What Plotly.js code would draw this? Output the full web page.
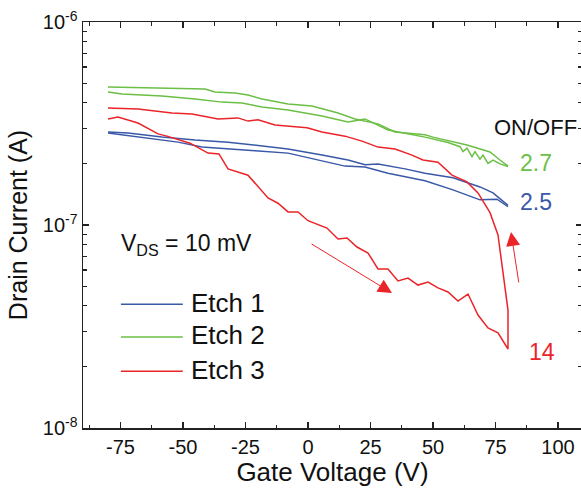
<!DOCTYPE html>
<html>
<head>
<meta charset="utf-8">
<script src="https://cdn.plot.ly/plotly-3.0.1.min.js"></script>
<style>
html,body{margin:0;padding:0;overflow:hidden;background:#fff;}
#chart{width:582px;height:488px;}
</style>
</head>
<body>
<div id="chart"></div>
<script>
// Etch 1 (blue), two sweeps
const vEtch1a = [-80,-72,-58.4,-45.2,-32,-21.2,-8,5.6,16,22.8,28,38.8,46.8,58,68.8,74,80];
const iEtch1a = [2.87e-7,2.84e-7,2.71e-7,2.62e-7,2.56e-7,2.48e-7,2.37e-7,2.21e-7,2.09e-7,1.98e-7,2.00e-7,1.89e-7,1.80e-7,1.71e-7,1.54e-7,1.44e-7,1.25e-7];
const vEtch1b = [-80,-70.4,-52,-42.4,-28,-21.2,-8,2.8,14.8,22.8,32,46.8,58,68.8,75.6,80];
const iEtch1b = [2.84e-7,2.74e-7,2.56e-7,2.42e-7,2.34e-7,2.32e-7,2.26e-7,2.11e-7,1.95e-7,1.93e-7,1.80e-7,1.65e-7,1.49e-7,1.33e-7,1.34e-7,1.23e-7];
// Etch 2 (green), two sweeps
const vEtch2a = [-80,-63.2,-41.2,-37.2,-29.2,-24,-18.4,-8,1.6,12,18.8,28,34.8,46.8,50,63.6,72.8,76.8,80];
const iEtch2a = [4.78e-7,4.73e-7,4.68e-7,4.52e-7,4.47e-7,4.37e-7,4.18e-7,3.94e-7,3.86e-7,3.56e-7,3.33e-7,3.15e-7,2.87e-7,2.78e-7,2.71e-7,2.48e-7,2.29e-7,2.09e-7,1.95e-7];
const vEtch2b = [-80,-74.4,-58.4,-45.2,-34.4,-26.4,-18.4,-8,5.6,16,22.8,32,46.8,52,56,60.8,62,63.6,65.6,66.8,68.8,70,72,74,76.8,80];
const iEtch2b = [4.52e-7,4.42e-7,4.32e-7,4.18e-7,4.03e-7,3.99e-7,3.81e-7,3.69e-7,3.44e-7,3.22e-7,3.33e-7,2.94e-7,2.71e-7,2.62e-7,2.55e-7,2.43e-7,2.30e-7,2.39e-7,2.17e-7,2.30e-7,2.11e-7,2.21e-7,2.01e-7,2.09e-7,2.00e-7,1.94e-7];
// Etch 3 (red), one hysteresis loop
const vEtch3 = [-80,-76,-68,-60,-56.4,-47.2,-40,-35.6,-32,-24,-16,-12,-8,-4,0,7.6,12,15.6,19.6,24,28,32,36,40,44,48,52,56,60,64,68,72,76,80,
                80,76,72.8,68,63.6,57.6,52,46,41.6,34.8,28,21.6,14.8,5.6,-0.4,-5.2,-13.2,-20,-24,-28,-36,-46.4,-54.4,-68,-80];
const iEtch3 = [3.33e-7,3.40e-7,3.18e-7,2.81e-7,2.74e-7,2.53e-7,2.26e-7,2.24e-7,1.89e-7,1.76e-7,1.36e-7,1.28e-7,1.16e-7,1.16e-7,1.05e-7,9.66e-8,8.53e-8,8.63e-8,7.79e-8,7.28e-8,6.07e-8,6.07e-8,5.30e-8,5.48e-8,5.06e-8,5.24e-8,4.90e-8,4.68e-8,4.22e-8,4.57e-8,3.60e-8,3.11e-8,2.94e-8,2.45e-8,
                3.81e-8,8.93e-8,1.15e-7,1.44e-7,1.63e-7,1.76e-7,2.04e-7,2.09e-7,2.21e-7,2.37e-7,2.42e-7,2.59e-7,2.74e-7,2.87e-7,3.01e-7,3.04e-7,3.11e-7,3.30e-7,3.25e-7,3.37e-7,3.33e-7,3.52e-7,3.56e-7,3.73e-7,3.77e-7];

const seriesNames = ['Etch 1','Etch 2','Etch 3'];
const ratioLabels = ['2.5','2.7','14'];
const xTicks = [-75,-50,-25,0,25,50,75,100];
const xTickText = ['-75','-50','-25','0','25','50','75','100'];
const yTicks = [1e-8,1e-7,1e-6];
const yTickText = ['10<sup>-8</sup>','10<sup>-7</sup>','10<sup>-6</sup>'];

const BLUE = '#3a58a8', GREEN = '#6cbf45', RED = '#ea2429';
const FONT = 'Liberation Sans, Arial, sans-serif';

const yMinor = [];
[1e-8,1e-7].forEach(d => { for (let k=2;k<=9;k++) yMinor.push(k*d); });
const xMinor = [-87.5,-62.5,-37.5,-12.5,12.5,37.5,62.5,87.5];

function tr(x,y,c){ return {x:x,y:y,type:'scatter',mode:'lines',line:{color:c,width:1.5},showlegend:false,hoverinfo:'skip'}; }
const traces = [
  tr(vEtch1a,iEtch1a,BLUE), tr(vEtch1b,iEtch1b,BLUE),
  tr(vEtch2a,iEtch2a,GREEN), tr(vEtch2b,iEtch2b,GREEN),
  tr(vEtch3,iEtch3,RED)
];

const legendY = [0.305,0.224,0.140];
const legendC = [BLUE,GREEN,RED];
const shapes = [];
const annotations = [];
seriesNames.forEach((n,i)=>{
  shapes.push({type:'line',xref:'paper',yref:'paper',x0:0.076,x1:0.2,y0:legendY[i],y1:legendY[i],line:{color:legendC[i],width:1.5}});
  annotations.push({xref:'paper',yref:'paper',x:0.212,y:legendY[i]+0.004,xanchor:'left',yanchor:'middle',text:n,showarrow:false,font:{family:FONT,size:26,color:'#111'}});
});
annotations.push({xref:'x',yref:'y',x:73.6,y:-6.522,xanchor:'left',yanchor:'middle',text:'ON/OFF',showarrow:false,font:{family:FONT,size:22,color:'#111'}});
annotations.push({xref:'x',yref:'y',x:84,y:-6.695,xanchor:'left',yanchor:'middle',text:ratioLabels[1],showarrow:false,font:{family:FONT,size:23,color:GREEN}});
annotations.push({xref:'x',yref:'y',x:84,y:-6.887,xanchor:'left',yanchor:'middle',text:ratioLabels[0],showarrow:false,font:{family:FONT,size:23,color:BLUE}});
annotations.push({xref:'x',yref:'y',x:87.6,y:-7.626,xanchor:'left',yanchor:'middle',text:ratioLabels[2],showarrow:false,font:{family:FONT,size:23,color:RED}});
annotations.push({xref:'x',yref:'y',x:-75.6,y:-7.095,xanchor:'left',yanchor:'middle',text:'V<sub>DS</sub> = 10 mV',showarrow:false,font:{family:FONT,size:23,color:'#111'}});
// arrows
annotations.push({xref:'x',yref:'y',x:33.6,y:-7.335,ax:-82,ay:-50,text:'',showarrow:true,arrowhead:2,arrowsize:2.8,arrowwidth:1,arrowcolor:RED});
annotations.push({xref:'x',yref:'y',x:81.2,y:-7.034,ax:8,ay:52,text:'',showarrow:true,arrowhead:2,arrowsize:2.8,arrowwidth:1,arrowcolor:RED});

const layout = {
  width:582, height:488,
  margin:{l:83,r:0,t:22,b:60},
  paper_bgcolor:'#fff', plot_bgcolor:'#fff',
  font:{family:FONT,color:'#111'},
  showlegend:false,
  xaxis:{range:[-90,109.6],tickmode:'array',tickvals:xTicks,ticktext:xTickText,ticks:'inside',ticklen:6,tickwidth:1.3,tickcolor:'#222',
    showline:true,linecolor:'#222',linewidth:1.5,mirror:'ticks',showgrid:false,zeroline:false,
    tickfont:{family:FONT,size:20,color:'#111'},
    minor:{tickmode:'array',tickvals:xMinor,ticks:'inside',ticklen:3.5,tickwidth:1.2,tickcolor:'#222',showgrid:false},
    title:{text:'Gate Voltage (V)',font:{family:FONT,size:26,color:'#111'},standoff:6}},
  yaxis:{type:'log',range:[-8,-6],tickmode:'array',tickvals:yTicks,ticktext:yTickText,ticks:'inside',ticklen:6,tickwidth:1.3,tickcolor:'#222',
    showline:true,linecolor:'#222',linewidth:1.5,mirror:'ticks',showgrid:false,zeroline:false,
    tickfont:{family:FONT,size:20,color:'#111'},
    minor:{tickmode:'array',tickvals:yMinor,ticks:'inside',ticklen:4,tickwidth:1.2,tickcolor:'#222',showgrid:false},
    title:{text:'Drain Current (A)',font:{family:FONT,size:25,color:'#111'},standoff:8}},
  shapes:shapes,
  annotations:annotations
};
Plotly.newPlot('chart',traces,layout,{displayModeBar:false,staticPlot:true});
</script>
</body>
</html>
